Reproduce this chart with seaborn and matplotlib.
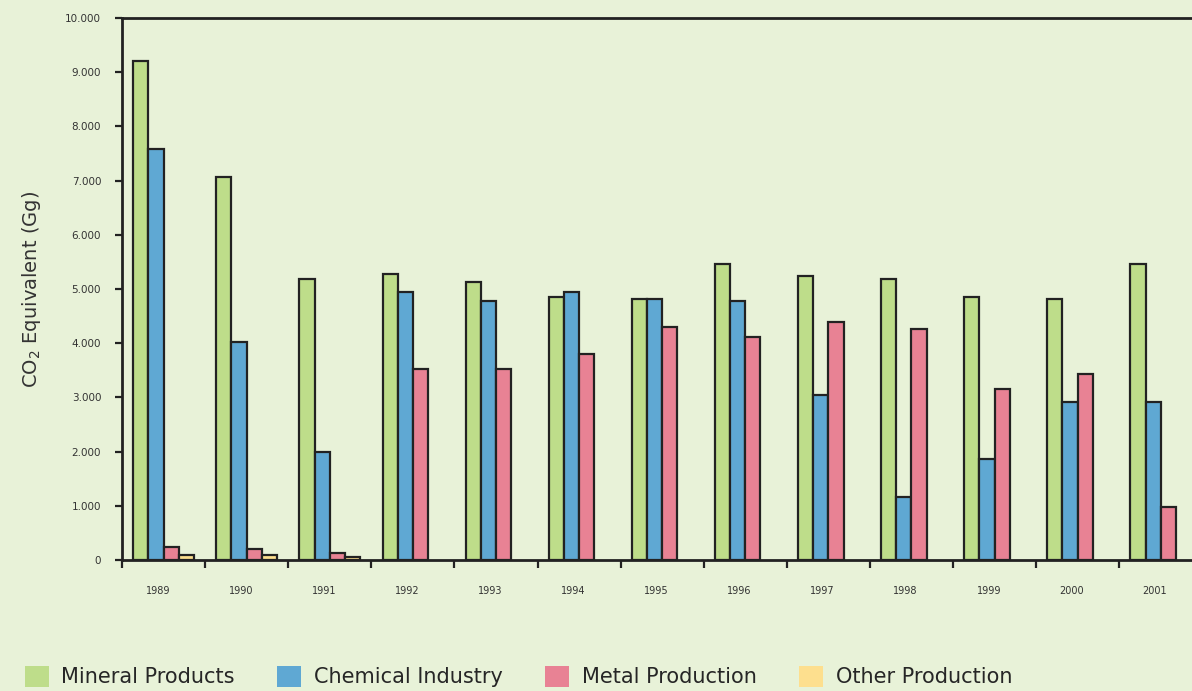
"""
Industrial processes emissions by sector, 1989-2001
Grouped bar chart in CO2 equivalent (Gg)
"""

import numpy as np
import pandas as pd
import matplotlib.pyplot as plt
import seaborn as sns
from matplotlib.patches import Patch
from matplotlib.ticker import FuncFormatter, FixedLocator

# Data (Gg CO2 equivalent)
years = ['1989', '1990', '1991', '1992', '1993', '1994', '1995',
         '1996', '1997', '1998', '1999', '2000', '2001']
mineral = [9210, 7070, 5180, 5280, 5130, 4850, 4820, 5460, 5240, 5180, 4850, 4820, 5460]
chemical = [7580, 4020, 1990, 4940, 4780, 4940, 4820, 4780, 3040, 1160, 1860, 2920, 2920]
metal = [240, 200, 130, 3520, 3520, 3800, 4300, 4110, 4390, 4260, 3160, 3430, 980]
other = [90, 90, 50, np.nan, np.nan, np.nan, np.nan, np.nan, np.nan, np.nan, np.nan, np.nan, np.nan]

sectors = ['Mineral Products', 'Chemical Industry', 'Metal Production', 'Other Production']
colors = ['#BEDD8A', '#5FA8D3', '#E88294', '#FDDF8E']
bg = '#E8F2D8'

df = pd.DataFrame({
    'year': years * 4,
    'sector': np.repeat(sectors, len(years)),
    'value': mineral + chemical + metal + other,
})

sns.set_style('white')
plt.rcParams['font.family'] = ['DejaVu Sans']

fig = plt.figure(figsize=(11.92, 6.91), dpi=100, facecolor=bg)
ax = fig.add_axes([122 / 1192, 131 / 691, 1 - 122 / 1192, (560 - 18) / 691])
ax.set_facecolor(bg)

sns.barplot(data=df, x='year', y='value', hue='sector', hue_order=sectors,
            palette=colors, saturation=1, width=0.73, edgecolor='#222222',
            linewidth=1.6, legend=False, ax=ax)

ax.yaxis.set_major_locator(FixedLocator(np.arange(0, 10001, 1000)))
ax.yaxis.set_major_formatter(FuncFormatter(lambda v, p: f'{int(v):,}'.replace(',', '.')))
ax.tick_params(axis='y', direction='out', length=5, width=1.6, color='#222222',
               labelsize=7.5, labelcolor='#333333', pad=10, left=True)

# year labels sit slightly left of the group centre in the original
ax.set_xticks(np.arange(len(years)) - 0.07)
ax.set_xticklabels(years)
ax.set_xticks(np.arange(len(years) + 1) - 0.5, minor=True)
ax.tick_params(axis='x', which='major', length=0, labelsize=7, labelcolor='#333333', pad=19)
ax.tick_params(axis='x', which='minor', direction='out', length=6, width=1.6,
               color='#222222', bottom=True)

# one group is ~83 px wide, the last group runs off the right edge
ax.set_xlim(-0.5, (1192 - 122) / 83.1 - 0.5)
ax.set_ylim(0, 10000)

for side in ['left', 'top', 'bottom']:
    ax.spines[side].set_visible(True)
    ax.spines[side].set_color('#222222')
    ax.spines[side].set_linewidth(2)
ax.spines['right'].set_visible(False)

ax.set_xlabel('')
ax.set_ylabel(r'CO$_\mathregular{2}$ Equivalent (Gg)', fontsize=14, color='#333333', labelpad=16)

handles = [Patch(facecolor=c, edgecolor='none') for c in colors]
fig.legend(handles, sectors, loc='lower left', bbox_to_anchor=(0.005, -0.022), ncol=4,
           frameon=False, handlelength=1.15, handleheight=1.15,
           handletextpad=0.6, columnspacing=2.05,
           prop={'family': ['Liberation Sans Narrow', 'DejaVu Sans'], 'size': 15})

plt.savefig('out.png', dpi=100, facecolor=bg)
plt.close()
